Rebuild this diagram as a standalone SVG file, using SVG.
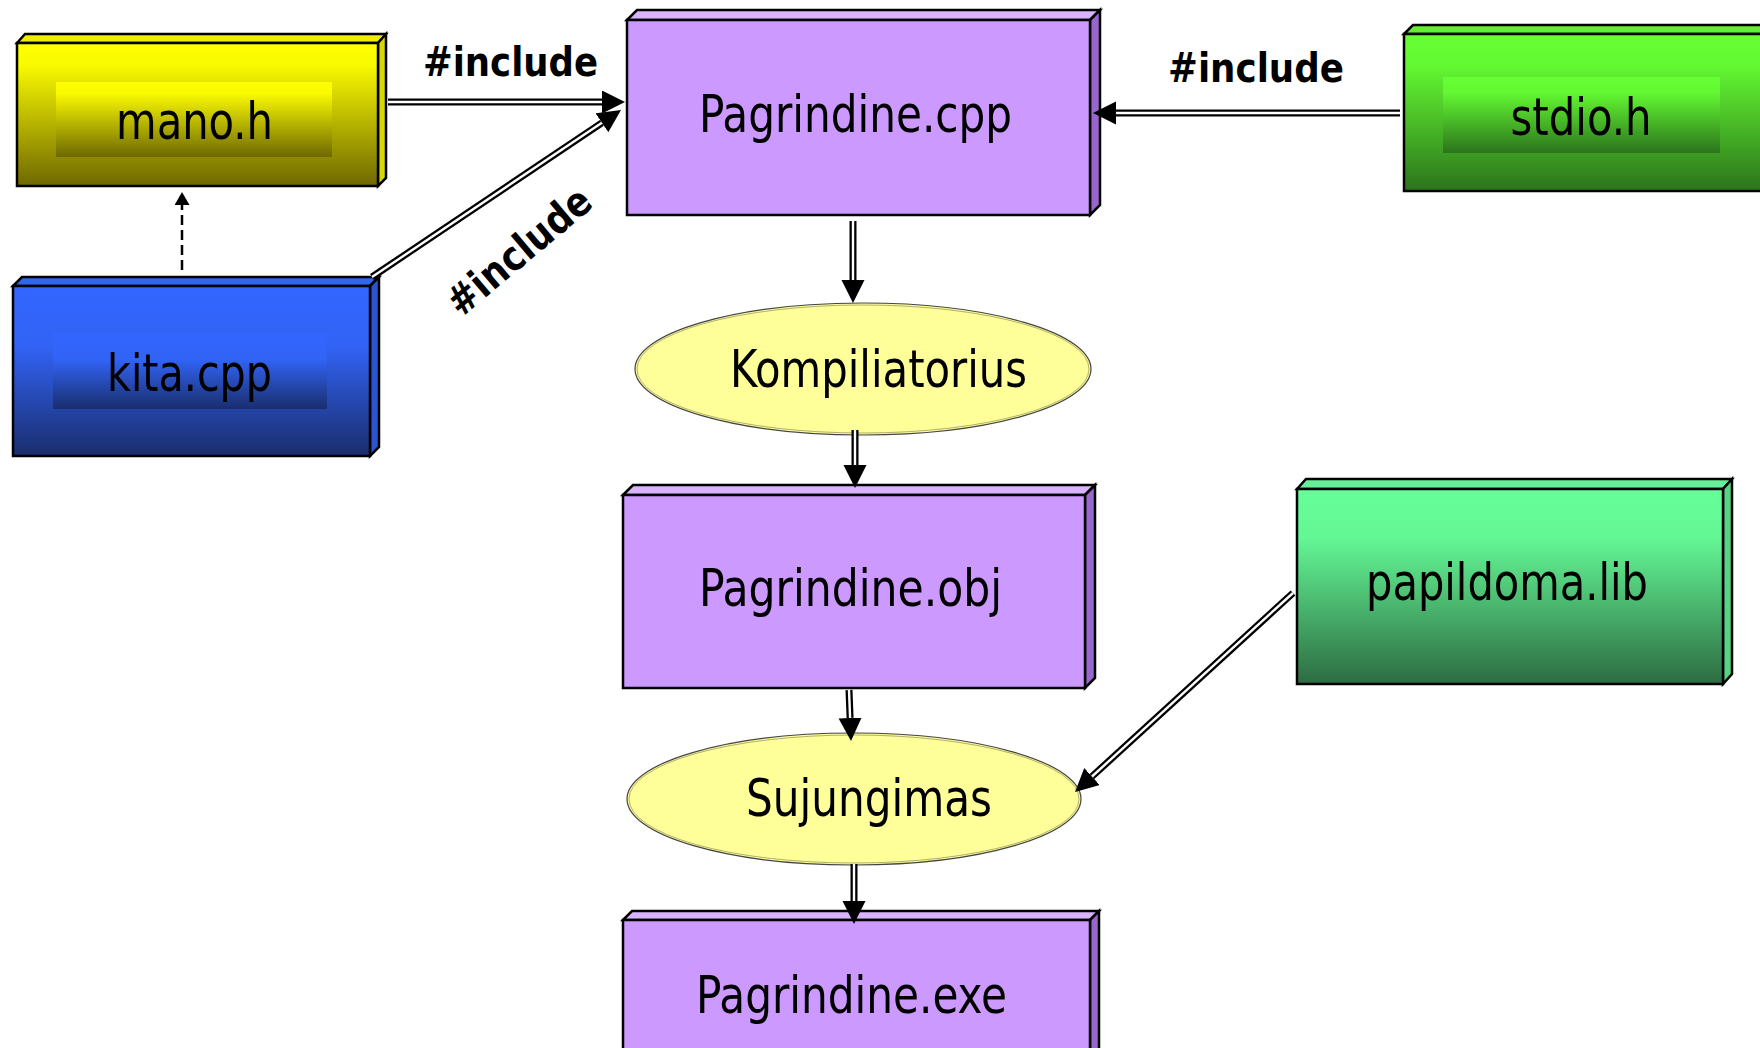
<svg xmlns="http://www.w3.org/2000/svg" width="1760" height="1048" viewBox="0 0 1760 1048">
<style>
.box{stroke:#000;stroke-width:2.5;stroke-linejoin:miter}
.lbl{font-family:"DejaVu Sans Condensed","DejaVu Sans","Liberation Sans",sans-serif;font-size:51px;fill:#000;text-anchor:middle}
.inc{font-family:"DejaVu Sans Condensed","DejaVu Sans","Liberation Sans",sans-serif;font-size:41px;font-weight:bold;fill:#000;text-anchor:middle}
.lnb{fill:none;stroke:#000;stroke-width:7}
.lnw{fill:none;stroke:#fff;stroke-width:2.4}
.ell{fill:#ffff99;stroke:#444;stroke-width:1.2}
.ell2{fill:none;stroke:#b0b070;stroke-width:1}
</style>
<defs>
<linearGradient id="gY" x1="0" y1="0" x2="0" y2="1"><stop offset="0" stop-color="#ffff00"/><stop offset="0.15" stop-color="#fafa00"/><stop offset="1" stop-color="#6e6800"/></linearGradient>
<linearGradient id="gB" x1="0" y1="0" x2="0" y2="1"><stop offset="0" stop-color="#3366ff"/><stop offset="0.35" stop-color="#3163f5"/><stop offset="1" stop-color="#1a2d6c"/></linearGradient>
<linearGradient id="gG" x1="0" y1="0" x2="0" y2="1"><stop offset="0" stop-color="#66ff33"/><stop offset="0.2" stop-color="#63f832"/><stop offset="1" stop-color="#2c731c"/></linearGradient>
<linearGradient id="gL" x1="0" y1="0" x2="0" y2="1"><stop offset="0" stop-color="#66ff99"/><stop offset="0.25" stop-color="#64f795"/><stop offset="1" stop-color="#2d6b42"/></linearGradient>
<marker id="ah" markerUnits="userSpaceOnUse" markerWidth="24" markerHeight="24" refX="0" refY="11.5" orient="auto"><path d="M0,0 L23,11.5 L0,23 z" fill="#000"/></marker>
<marker id="ahs" markerUnits="userSpaceOnUse" markerWidth="14" markerHeight="16" refX="0" refY="7.5" orient="auto"><path d="M0,0 L13,7.5 L0,15 z" fill="#000"/></marker>
</defs>

<g id="mano_h">
<polygon class="box" points="17,43 25,34 386,34 378,43" fill="#eeee00"/>
<polygon class="box" points="378,43 386,34 386,178 378,186" fill="#d8d800"/>
<rect class="box" x="17" y="43" width="361" height="143" fill="url(#gY)"/>
<rect x="56" y="82" width="276" height="75" fill="url(#gY)"/>
<text class="lbl" x="194.5" y="139" textLength="157" lengthAdjust="spacingAndGlyphs">mano.h</text>
</g>

<g id="kita_cpp">
<polygon class="box" points="13,286 22,277 379,277 370,286" fill="#3366ee"/>
<polygon class="box" points="370,286 379,277 379,447 370,456" fill="#2b55d0"/>
<rect class="box" x="13" y="286" width="357" height="170" fill="url(#gB)"/>
<rect x="53" y="333" width="274" height="76" fill="url(#gB)"/>
<text class="lbl" x="189.5" y="391" textLength="165" lengthAdjust="spacingAndGlyphs">kita.cpp</text>
</g>

<g id="pagrindine_cpp">
<polygon class="box" points="627,20 637,10 1100,10 1090,20" fill="#d9b3ff"/>
<polygon class="box" points="1090,20 1100,10 1100,205 1090,215" fill="#9966cc"/>
<rect class="box" x="627" y="20" width="463" height="195" fill="#cc99ff"/>
<text class="lbl" x="855.5" y="132" textLength="313" lengthAdjust="spacingAndGlyphs">Pagrindine.cpp</text>
</g>

<g id="stdio_h">
<polygon class="box" points="1404,34 1413,25 1790,25 1781,34" fill="#66ee33"/>
<rect class="box" x="1404" y="34" width="377" height="157" fill="url(#gG)"/>
<rect x="1443" y="77" width="277" height="76" fill="url(#gG)"/>
<text class="lbl" x="1581" y="135" textLength="141" lengthAdjust="spacingAndGlyphs">stdio.h</text>
</g>

<g id="kompiliatorius">
<ellipse class="ell" cx="863" cy="369" rx="228" ry="66"/>
<ellipse class="ell2" cx="863" cy="369" rx="226" ry="64"/>
<text class="lbl" x="878.5" y="387" textLength="297" lengthAdjust="spacingAndGlyphs">Kompiliatorius</text>
</g>

<g id="pagrindine_obj">
<polygon class="box" points="623,495 633,485 1095,485 1085,495" fill="#d9b3ff"/>
<polygon class="box" points="1085,495 1095,485 1095,678 1085,688" fill="#9966cc"/>
<rect class="box" x="623" y="495" width="462" height="193" fill="#cc99ff"/>
<text class="lbl" x="850.5" y="606" textLength="303" lengthAdjust="spacingAndGlyphs">Pagrindine.obj</text>
</g>

<g id="papildoma_lib">
<polygon class="box" points="1297,489 1306,479 1732,479 1723,489" fill="#66ee99"/>
<polygon class="box" points="1723,489 1732,479 1732,674 1723,684" fill="#55d485"/>
<rect class="box" x="1297" y="489" width="426" height="195" fill="url(#gL)"/>
<text class="lbl" x="1507" y="600" textLength="282" lengthAdjust="spacingAndGlyphs">papildoma.lib</text>
</g>

<g id="sujungimas">
<ellipse class="ell" cx="854" cy="799" rx="227" ry="66"/>
<ellipse class="ell2" cx="854" cy="799" rx="225" ry="64"/>
<text class="lbl" x="869" y="816" textLength="246" lengthAdjust="spacingAndGlyphs">Sujungimas</text>
</g>

<g id="pagrindine_exe">
<polygon class="box" points="623,920 632,911 1099,911 1090,920" fill="#d9b3ff"/>
<polygon class="box" points="1090,920 1099,911 1099,1060 1090,1070" fill="#9966cc"/>
<rect class="box" x="623" y="920" width="467" height="150" fill="#cc99ff"/>
<text class="lbl" x="851.5" y="1013" textLength="311" lengthAdjust="spacingAndGlyphs">Pagrindine.exe</text>
</g>

<g id="connectors">
<path class="lnb" d="M388,102 L602,102" marker-end="url(#ah)"/>
<path class="lnw" d="M388,102 L602,102"/>
<path class="lnb" d="M372,277 L601.9,122.8" marker-end="url(#ah)"/>
<path class="lnw" d="M372,277 L601.9,122.8"/>
<path class="lnb" d="M1400,113 L1116,113" marker-end="url(#ah)"/>
<path class="lnw" d="M1400,113 L1116,113"/>
<path class="lnb" d="M853,221 L853,280" marker-end="url(#ah)"/>
<path class="lnw" d="M853,221 L853,280"/>
<path class="lnb" d="M855,430 L855,465" marker-end="url(#ah)"/>
<path class="lnw" d="M855,430 L855,465"/>
<path class="lnb" d="M849,690 L850.1,718" marker-end="url(#ah)"/>
<path class="lnw" d="M849,690 L850.1,718"/>
<path class="lnb" d="M1293,593 L1092,776.5" marker-end="url(#ah)"/>
<path class="lnw" d="M1293,593 L1092,776.5"/>
<path class="lnb" d="M854,864 L854,901" marker-end="url(#ah)"/>
<path class="lnw" d="M854,864 L854,901"/>
<path d="M182,270 L182,205" fill="none" stroke="#000" stroke-width="2.5" stroke-dasharray="10,5" marker-end="url(#ahs)"/>
<text class="inc" x="510.5" y="76" textLength="175" lengthAdjust="spacingAndGlyphs">#include</text>
<text class="inc" x="1256" y="82" textLength="176" lengthAdjust="spacingAndGlyphs">#include</text>
<text class="inc" transform="translate(528,262) rotate(-40)" x="0" y="0" textLength="175" lengthAdjust="spacingAndGlyphs">#include</text>
</g>
</svg>
